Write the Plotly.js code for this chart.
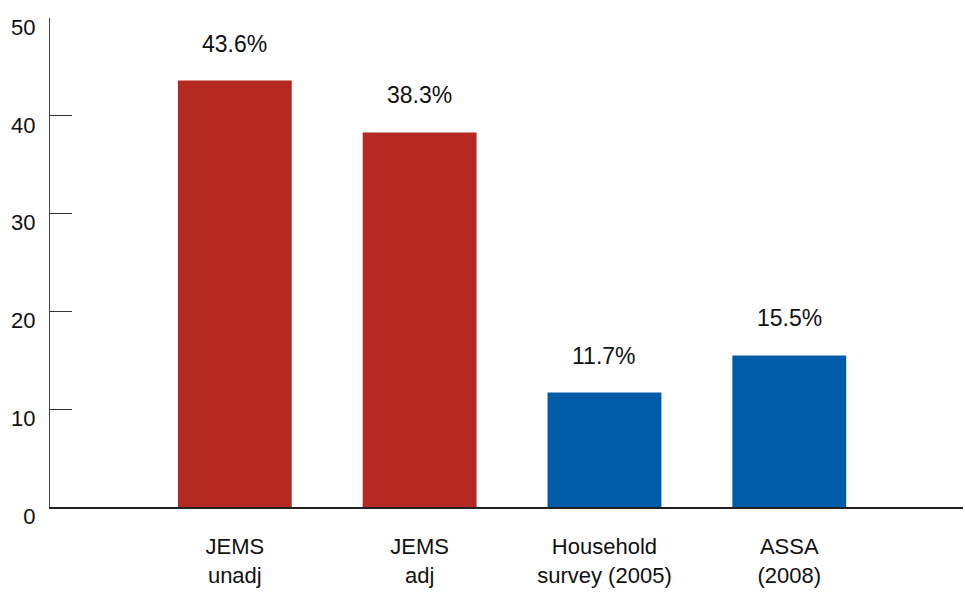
<!DOCTYPE html>
<html>
<head>
<meta charset="utf-8">
<script src="https://cdn.plot.ly/plotly-3.0.1.min.js"></script>
<style>html,body{margin:0;padding:0;background:#fff;}#chart{width:965px;height:593px;}</style>
</head>
<body>
<div id="chart"></div>
<script>
const categories = ["JEMS<br>unadj", "JEMS<br>adj", "Household<br>survey (2005)", "ASSA<br>(2008)"];
const values = [43.6, 38.3, 11.7, 15.5];
const valueLabels = ["43.6%", "38.3%", "11.7%", "15.5%"];
const barColors = ["#B42A22", "#B42A22", "#005CA9", "#005CA9"];
const yTicks = [0, 10, 20, 30, 40, 50];

const xIdx = categories.map((c, i) => i);

const trace = {
  type: "bar",
  x: xIdx,
  y: values,
  width: 0.616,
  marker: {color: barColors},
  hoverinfo: "skip"
};

const annotations = values.map((v, i) => ({
  x: xIdx[i], y: v, xref: "x", yref: "y",
  text: valueLabels[i], showarrow: false,
  yanchor: "middle", yshift: 37,
  font: {family: "Liberation Sans, Arial, sans-serif", size: 23, color: "#111"}
}));

const layout = {
  width: 965, height: 593,
  margin: {l: 50, r: 2, t: 18, b: 86},
  paper_bgcolor: "#fff", plot_bgcolor: "#fff",
  showlegend: false,
  xaxis: {
    range: [-1, 3.94],
    tickmode: "array", tickvals: xIdx, ticktext: categories,
    showline: true, linecolor: "#222", linewidth: 2,
    showgrid: false, zeroline: false, ticks: "",
    ticklabelstandoff: 19,
    tickfont: {family: "Liberation Sans, Arial, sans-serif", size: 22, color: "#111"}
  },
  yaxis: {
    range: [0, 50],
    tickmode: "array", tickvals: yTicks,
    showline: true, linecolor: "#444", linewidth: 1,
    showgrid: false, zeroline: false,
    ticks: "inside", ticklen: 22, tickcolor: "#333", tickwidth: 1,
    ticklabelshift: 9, ticklabelstandoff: 9,
    tickfont: {family: "Liberation Sans, Arial, sans-serif", size: 22, color: "#111"}
  },
  annotations: annotations
};

Plotly.newPlot("chart", [trace], layout, {displayModeBar: false, staticPlot: true});
</script>
</body>
</html>
